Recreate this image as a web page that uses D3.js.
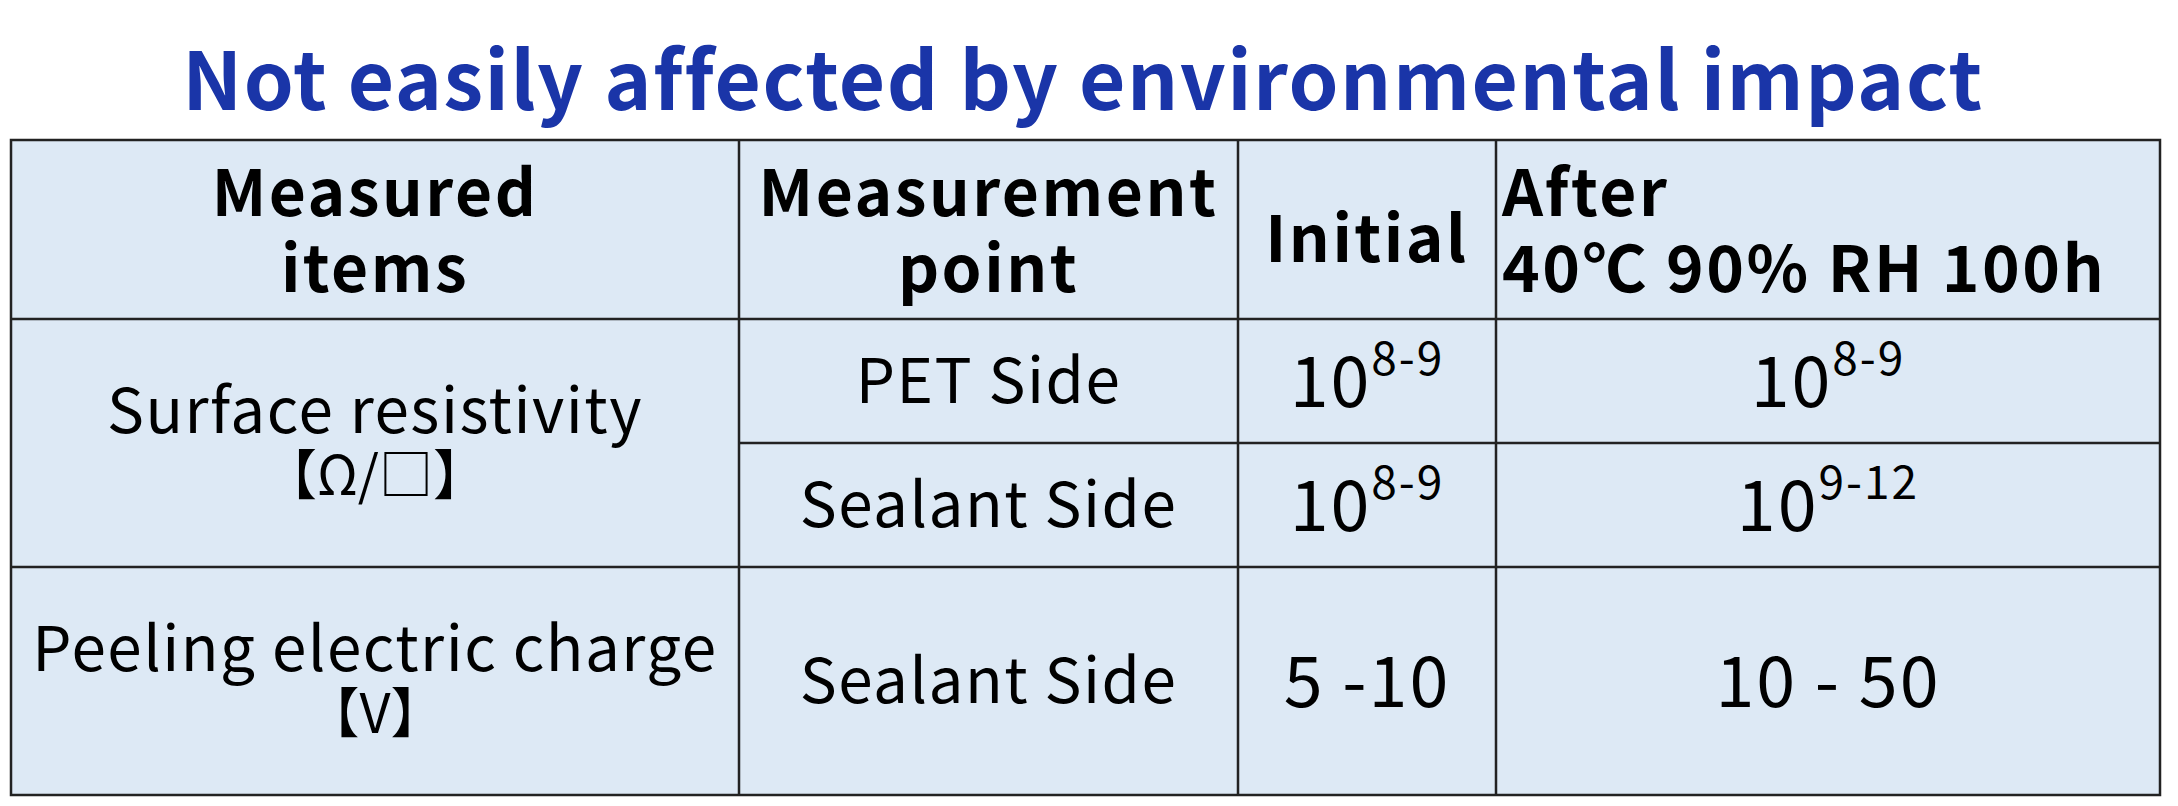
<!DOCTYPE html>
<html><head><meta charset="utf-8">
<script src="https://cdn.jsdelivr.net/npm/d3@7"></script>
<style>body{margin:0;background:#fff}</style>
</head><body><div id="chart"></div>
<script>
const title = "Not easily affected by environmental impact";
const headers = [["Measured", "items"], ["Measurement", "point"], ["Initial"], ["After", "40℃ 90% RH 100h"]];
const items = [["Surface resistivity", "【Ω/□】"], ["Peeling electric charge", "【V】"]];
const points = ["PET Side", "Sealant Side", "Sealant Side"];
const initial = [["10", "8-9"], ["10", "8-9"], ["5 -10", ""]];
const after = [["10", "8-9"], ["10", "9-12"], ["10 - 50", ""]];

const W = 2178, H = 806;
const font = "'Noto Sans CJK JP', 'Noto Sans', sans-serif";
const svg = d3.select("#chart").append("svg").attr("width", W).attr("height", H);

// column and row edges
const colX = [11, 739, 1238, 1496, 2160];
const rowY = [140, 319, 443, 567, 795];

svg.append("text").attr("x", 1083).attr("y", 110).attr("text-anchor", "middle")
  .attr("font-family", font).attr("font-weight", "bold").attr("font-size", 80)
  .attr("letter-spacing", 1.5).attr("fill", "#1a35a8").text(title);

svg.append("rect").attr("x", colX[0]).attr("y", rowY[0])
  .attr("width", colX[4] - colX[0]).attr("height", rowY[4] - rowY[0])
  .attr("fill", "#dde9f5").attr("stroke", "#222").attr("stroke-width", 2.5);

const line = (x1, y1, x2, y2) => svg.append("line").attr("x1", x1).attr("y1", y1)
  .attr("x2", x2).attr("y2", y2).attr("stroke", "#222").attr("stroke-width", 2.5);
colX.slice(1, 4).forEach(x => line(x, rowY[0], x, rowY[4]));
line(colX[0], rowY[1], colX[4], rowY[1]);
line(colX[1], rowY[2], colX[4], rowY[2]);
line(colX[0], rowY[3], colX[4], rowY[3]);

const cx = i => (colX[i] + colX[i + 1]) / 2;

// header
headers.forEach((h, i) => {
  const x = i === 3 ? colX[3] + 6 : cx(i);
  const t = svg.append("text").attr("font-family", font).attr("font-weight", "bold")
    .attr("font-size", 64).attr("letter-spacing", 2.5).attr("fill", "#000")
    .attr("text-anchor", i === 3 ? "start" : "middle");
  const y0 = h.length === 1 ? 262 : 216;
  h.forEach((s, k) => t.append("tspan").attr("x", x).attr("y", y0 + k * 76).text(s));
});

// measured items
const itemY = [(rowY[1] + rowY[3]) / 2, (rowY[3] + rowY[4]) / 2];
items.forEach((it, i) => {
  const g = svg.append("g").attr("font-family", font).attr("text-anchor", "middle").attr("fill", "#000");
  g.append("text").attr("x", cx(0)).attr("y", itemY[i] - 10)
    .attr("font-size", 62).attr("letter-spacing", 1.5).text(it[0]);
  g.append("text").attr("x", cx(0)).attr("y", itemY[i] + 52).attr("font-size", 54).text(it[1]);
});

const rowMid = i => (rowY[i + 1] + rowY[i + 2]) / 2;
points.forEach((p, i) => {
  svg.append("text").attr("x", cx(1)).attr("y", rowMid(i) + 22).attr("text-anchor", "middle")
    .attr("font-family", font).attr("font-size", 62).attr("letter-spacing", 1.5).text(p);
});

function valueCell(v, col, i) {
  const t = svg.append("text").attr("x", cx(col)).attr("y", rowMid(i) + 26)
    .attr("text-anchor", "middle").attr("font-family", font).attr("font-size", 70)
    .attr("letter-spacing", 2);
  t.append("tspan").text(v[0]);
  if (v[1]) t.append("tspan").attr("dy", -32).attr("font-size", 46).text(v[1]);
}
initial.forEach((v, i) => valueCell(v, 2, i));
after.forEach((v, i) => valueCell(v, 3, i));
</script></body></html>
